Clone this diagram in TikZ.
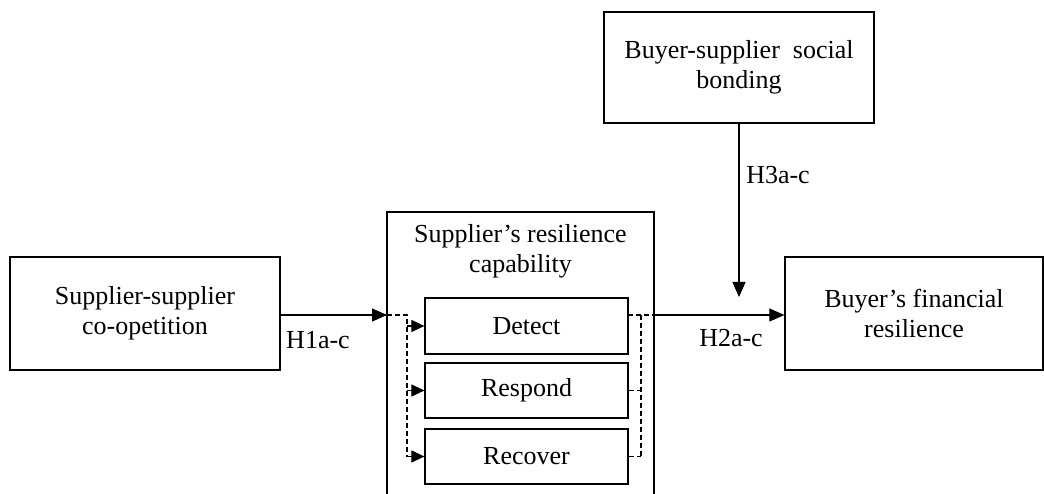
\documentclass[tikz,border=0pt]{standalone}
\usepackage{fontspec}
\setmainfont{Liberation Serif}
\usetikzlibrary{arrows.meta}
\begin{document}
\begin{tikzpicture}[x=1pt,y=-1pt,
  every node/.style={font=\fontsize{26}{30}\selectfont, inner sep=0pt},
  box/.style={draw, line width=1.2pt, rectangle, align=center},
  arr/.style={line width=1.1pt, -{Triangle[length=15pt,width=13pt]}},
  darr/.style={line width=1.1pt, dash pattern=on 5pt off 3pt, -{Triangle[length=13pt,width=12pt]}},
  dline/.style={line width=1.1pt, dash pattern=on 5pt off 3pt},
  lbl/.style={anchor=center}]
\useasboundingbox (0,0) rectangle (1044,494);
\clip (0,0) rectangle (1044,494);
% boxes
\node[box, minimum width=270pt, minimum height=113pt] (coop) at (145,313.5) {Supplier-supplier\\co-opetition};
\node[box, minimum width=267pt, minimum height=308pt] (cap) at (520.5,366) {};
\node[align=center] (captitle) at (520.5,251) {Supplier’s resilience\\capability};
\node[box, minimum width=203pt, minimum height=56pt] (det) at (526.5,326) {Detect};
\node[box, minimum width=203pt, minimum height=55pt] (res) at (526.5,390.5) {Respond};
\node[box, minimum width=203pt, minimum height=55pt] (rec) at (526.5,456.5) {Recover};
\node[box, minimum width=258pt, minimum height=113pt] (fin) at (914,313.5) {Buyer’s financial\\resilience};
\node[box, minimum width=270pt, minimum height=111pt] (soc) at (739,67.5) {Buyer-supplier \ social\\bonding};
% junction coordinates
\coordinate (inL) at (387,315);
\coordinate (jL) at (407,315);
\coordinate (jLb) at (407,456.5);
\coordinate (outD) at (628,315);
\coordinate (jR) at (641,315);
\coordinate (jRb) at (641,456.5);
\coordinate (outC) at (654,315);
\coordinate (mod) at (739,297);
% connectors
\draw[arr] (coop.east |- inL) -- (inL);
\draw[dline] (inL) -- (jL) -- (jLb);
\draw[darr] (jL |- det.west) -- (det.west);
\draw[darr] (jL |- res.west) -- (res.west);
\draw[darr] (jLb) -- (rec.west);
\draw[dline] (outD) -- (outC);
\draw[dline] (jR) -- (jRb);
\draw[dline] (res.east) -- (res.east -| jR);
\draw[dline] (rec.east) -- (jRb);
\draw[arr] (outC) -- (outC -| fin.west);
\draw[arr] (soc.south) -- (mod);
% labels
\node[lbl] (h1) at (318,340) {H1a-c};
\node[lbl] (h2) at (731,338) {H2a-c};
\node[lbl] (h3) at (778,175) {H3a-c};
\end{tikzpicture}
\end{document}
